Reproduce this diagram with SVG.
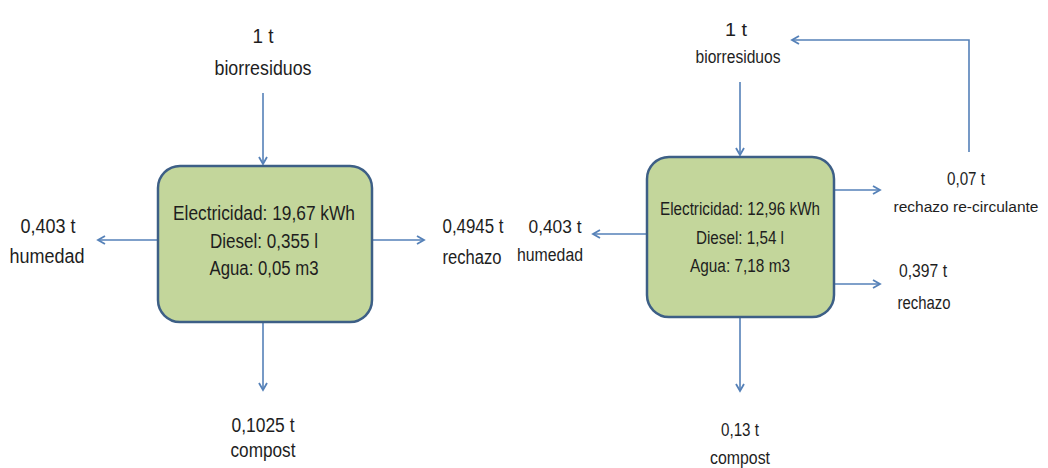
<svg xmlns="http://www.w3.org/2000/svg" width="1048" height="468" viewBox="0 0 1048 468">
  <style>
    .box { fill: #c3d69b; stroke: #3d5f86; stroke-width: 2.5; }
    .ln { fill: none; stroke: #5581b8; stroke-width: 1.6; marker-end: url(#arr); }
    text { font-family: "Liberation Sans", Arial, sans-serif; fill: #1e1e1e; text-anchor: middle; }
    .L { font-size: 20px; }
    .R { font-size: 18px; }
    .S { font-size: 15.5px; }
  </style>
  <defs>
    <marker id="arr" markerUnits="userSpaceOnUse" markerWidth="12" markerHeight="12" refX="8" refY="5" orient="auto">
      <path d="M1,1 L8,5 L1,9" fill="none" stroke="#5581b8" stroke-width="1.8"/>
    </marker>
  </defs>
  <rect width="1048" height="468" fill="#ffffff"/>

  <g id="connectors">
    <line class="ln" x1="263" y1="93" x2="263" y2="164"/>
    <line class="ln" x1="158" y1="240" x2="98" y2="240"/>
    <line class="ln" x1="372" y1="240" x2="424" y2="240"/>
    <line class="ln" x1="263" y1="322" x2="263" y2="390"/>
    <line class="ln" x1="740" y1="82" x2="740" y2="155"/>
    <line class="ln" x1="647" y1="234" x2="593" y2="234"/>
    <line class="ln" x1="834" y1="190" x2="880" y2="190"/>
    <line class="ln" x1="834" y1="284" x2="880" y2="284"/>
    <line class="ln" x1="740" y1="317" x2="740" y2="391"/>
    <polyline class="ln" points="969,152 969,40 792,40"/>
  </g>

  <g id="proc1">
    <rect class="box" x="158" y="166" width="214" height="156" rx="22" ry="22"/>
    <text class="L" x="264" y="220" textLength="182" lengthAdjust="spacingAndGlyphs">Electricidad: 19,67 kWh</text>
    <text class="L" x="264" y="248" textLength="108" lengthAdjust="spacingAndGlyphs">Diesel: 0,355 l</text>
    <text class="L" x="264" y="275" textLength="109" lengthAdjust="spacingAndGlyphs">Agua: 0,05 m3</text>
  </g>
  <g id="in1">
    <text class="L" x="263" y="43" textLength="21" lengthAdjust="spacingAndGlyphs">1 t</text>
    <text class="L" x="263" y="75" textLength="97" lengthAdjust="spacingAndGlyphs">biorresiduos</text>
  </g>
  <g id="hum1">
    <text class="L" x="48" y="233" textLength="55" lengthAdjust="spacingAndGlyphs">0,403 t</text>
    <text class="L" x="47" y="263" textLength="75" lengthAdjust="spacingAndGlyphs">humedad</text>
  </g>
  <g id="rech1">
    <text class="L" x="473" y="233" textLength="61" lengthAdjust="spacingAndGlyphs">0,4945 t</text>
    <text class="L" x="472" y="264" textLength="59" lengthAdjust="spacingAndGlyphs">rechazo</text>
  </g>
  <g id="comp1">
    <text class="L" x="263" y="432" textLength="63" lengthAdjust="spacingAndGlyphs">0,1025 t</text>
    <text class="L" x="263" y="457" textLength="65" lengthAdjust="spacingAndGlyphs">compost</text>
  </g>

  <g id="proc2">
    <rect class="box" x="647" y="157" width="187" height="160" rx="22" ry="22"/>
    <text class="R" x="740" y="215" textLength="160" lengthAdjust="spacingAndGlyphs">Electricidad: 12,96 kWh</text>
    <text class="R" x="740" y="244" textLength="88" lengthAdjust="spacingAndGlyphs">Diesel: 1,54 l</text>
    <text class="R" x="740" y="272" textLength="100" lengthAdjust="spacingAndGlyphs">Agua: 7,18 m3</text>
  </g>
  <g id="in2">
    <text class="R" x="736" y="36" textLength="22" lengthAdjust="spacingAndGlyphs">1 t</text>
    <text class="R" x="738" y="63" textLength="85" lengthAdjust="spacingAndGlyphs">biorresiduos</text>
  </g>
  <g id="hum2">
    <text class="R" x="555" y="233" textLength="53" lengthAdjust="spacingAndGlyphs">0,403 t</text>
    <text class="R" x="550" y="261" textLength="66" lengthAdjust="spacingAndGlyphs">humedad</text>
  </g>
  <g id="recirc2">
    <text class="R" x="966" y="185" textLength="38" lengthAdjust="spacingAndGlyphs">0,07 t</text>
    <text class="S" x="966" y="212" textLength="145" lengthAdjust="spacingAndGlyphs">rechazo re-circulante</text>
  </g>
  <g id="rech2">
    <text class="R" x="923" y="277" textLength="48" lengthAdjust="spacingAndGlyphs">0,397 t</text>
    <text class="R" x="924" y="309" textLength="53" lengthAdjust="spacingAndGlyphs">rechazo</text>
  </g>
  <g id="comp2">
    <text class="R" x="740" y="436" textLength="38" lengthAdjust="spacingAndGlyphs">0,13 t</text>
    <text class="R" x="740" y="464" textLength="60" lengthAdjust="spacingAndGlyphs">compost</text>
  </g>
</svg>
